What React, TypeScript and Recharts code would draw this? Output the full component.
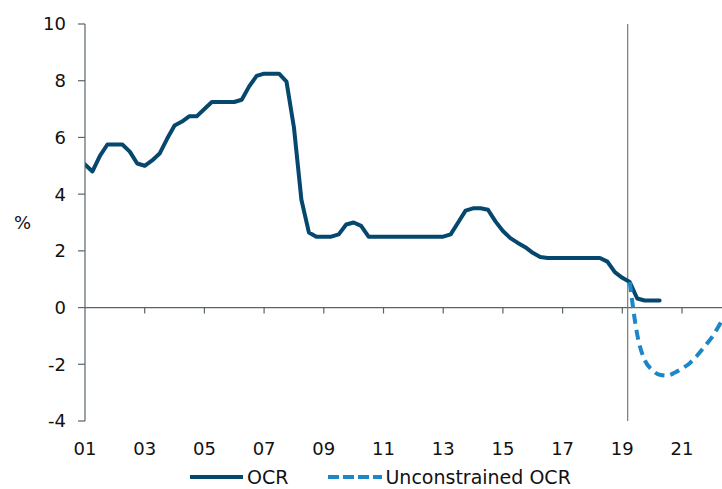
import React from 'react';
import { LineChart, Line, XAxis, YAxis, ReferenceLine, Legend } from 'recharts';

// Quarterly time index (2001 Q1 onward)
const quarters: number[] = Array.from({ length: 87 }, (_, i) => 2001 + i * 0.25);

const ocr: (number | null)[] = [
  5.05, 4.8, 5.35, 5.75, 5.75, 5.75, 5.5, 5.08, 5.0, 5.19,
  5.43, 5.95, 6.42, 6.56, 6.75, 6.75, 7.0, 7.25, 7.25, 7.25,
  7.25, 7.33, 7.8, 8.17, 8.25, 8.25, 8.25, 7.97, 6.35, 3.8,
  2.65, 2.5, 2.5, 2.5, 2.58, 2.93, 3.0, 2.88, 2.5, 2.5,
  2.5, 2.5, 2.5, 2.5, 2.5, 2.5, 2.5, 2.5, 2.5, 2.58,
  3.0, 3.42, 3.5, 3.5, 3.45, 3.04, 2.7, 2.45, 2.28, 2.13,
  1.93, 1.78, 1.75, 1.75, 1.75, 1.75, 1.75, 1.75, 1.75, 1.75,
  1.62, 1.25, 1.05, 0.9, 0.32, 0.25, 0.25, 0.25,
];

const unconstrained: (number | null)[] = [
  0.9, -0.95, -1.85, -2.2, -2.37, -2.4, -2.3, -2.15, -1.97, -1.7,
  -1.38, -1.05, -0.62, -0.2,
];
const unconstrainedStart = 73;

const xTicks = [2001, 2003, 2005, 2007, 2009, 2011, 2013, 2015, 2017, 2019, 2021];
const xTickLabels = ['01', '03', '05', '07', '09', '11', '13', '15', '17', '19', '21'];
const yTicks = [-4, -2, 0, 2, 4, 6, 8, 10];
const minorTicks = [2003, 2005, 2007, 2009, 2011, 2013, 2015, 2017, 2019, 2021];
const forecastLine = 2019.18;

const data = quarters.map((q, i) => ({
  q,
  ocr: i < ocr.length ? ocr[i] : null,
  unc:
    i >= unconstrainedStart && i - unconstrainedStart < unconstrained.length
      ? unconstrained[i - unconstrainedStart]
      : null,
}));

const OCR_COLOR = '#05476d';
const UNC_COLOR = '#1b87c6';
const AXIS_COLOR = '#59646b';
const FONT = '"DejaVu Sans", Verdana, sans-serif';

const LegendContent = () => (
  <div
    style={{
      height: 32,
      boxSizing: 'border-box',
      paddingTop: 8,
      paddingLeft: 190,
      display: 'flex',
      alignItems: 'center',
      fontFamily: FONT,
      fontSize: 19,
      color: '#111',
      whiteSpace: 'nowrap',
    }}
  >
    <svg width={53} height={6} style={{ display: 'block' }}>
      <line x1={0} y1={3} x2={53} y2={3} stroke={OCR_COLOR} strokeWidth={4} />
    </svg>
    <span style={{ marginLeft: 4, lineHeight: '18px' }}>OCR</span>
    <svg width={54} height={6} style={{ display: 'block', marginLeft: 40 }}>
      <line x1={0} y1={3} x2={54} y2={3} stroke={UNC_COLOR} strokeWidth={4} strokeDasharray="11 4" />
    </svg>
    <span style={{ marginLeft: 3, lineHeight: '18px' }}>Unconstrained OCR</span>
  </div>
);

export default function App() {
  return (
    <div style={{ position: 'absolute', left: 0, top: 0, width: 722, height: 489, overflow: 'hidden', background: '#fff', fontFamily: FONT }}>
      <LineChart width={722} height={489} data={data} margin={{ top: 24, right: 0, bottom: 0, left: 0 }}>
        <XAxis
          dataKey="q"
          type="number"
          domain={[2001, 2022.34]}
          allowDataOverflow
          ticks={xTicks}
          tickFormatter={(v: number) => xTickLabels[xTicks.indexOf(v)] ?? ''}
          axisLine={false}
          tickLine={false}
          tickSize={0}
          tickMargin={21}
          height={36}
          tick={{ fontSize: 18, fill: '#111', fontFamily: FONT }}
        />
        <YAxis
          type="number"
          domain={[-4, 10]}
          ticks={yTicks}
          width={85}
          axisLine={{ stroke: AXIS_COLOR, strokeWidth: 1.2 }}
          tickLine={{ stroke: AXIS_COLOR, strokeWidth: 1.2 }}
          tickSize={7}
          tickMargin={12}
          tick={{ fontSize: 18, fill: '#111', fontFamily: FONT }}
          label={{ value: '%', position: 'insideLeft', offset: 14, angle: 0, fontSize: 18, fill: '#111', fontFamily: FONT }}
        />
        <ReferenceLine y={0} stroke={AXIS_COLOR} strokeWidth={1.2} />
        {minorTicks.map((t) => (
          <ReferenceLine
            key={t}
            segment={[{ x: t, y: 0 }, { x: t, y: -0.21 }]}
            stroke={AXIS_COLOR}
            strokeWidth={1.2}
          />
        ))}
        <ReferenceLine x={forecastLine} stroke="#7a7a7a" strokeWidth={1.2} />
        <Line
          type="linear"
          dataKey="ocr"
          stroke={OCR_COLOR}
          strokeWidth={4}
          dot={false}
          activeDot={false}
          isAnimationActive={false}
          connectNulls={false}
          strokeLinejoin="round"
          strokeLinecap="round"
        />
        <Line
          type="monotone"
          dataKey="unc"
          stroke={UNC_COLOR}
          strokeWidth={4}
          strokeDasharray="10 6"
          dot={false}
          activeDot={false}
          isAnimationActive={false}
          connectNulls={false}
        />
        <Legend verticalAlign="bottom" content={() => <LegendContent />} />
      </LineChart>
    </div>
  );
}
